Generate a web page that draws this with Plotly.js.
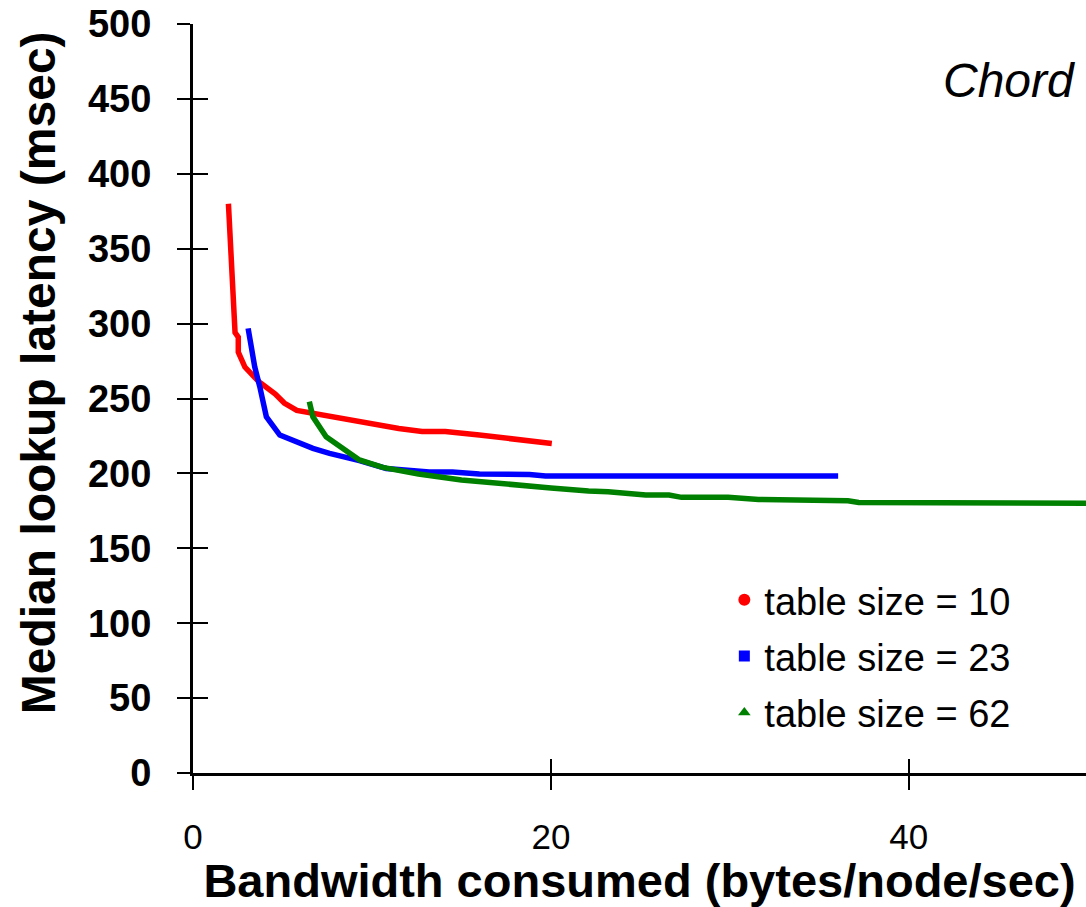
<!DOCTYPE html>
<html>
<head>
<meta charset="utf-8">
<script src="https://cdn.plot.ly/plotly-3.0.1.min.js"></script>
<style>html,body{margin:0;padding:0;background:#fff;}#chart{width:1086px;height:907px;}</style>
</head>
<body>
<div id="chart"></div>
<script>
// Data
const redX = [1.98, 2.17, 2.35, 2.53, 2.53, 2.9, 3.7, 4.6, 5.1, 5.8, 6.7, 7.2, 8.9, 10.2, 11.5, 12.8, 14.1, 16.0, 18.0, 20.05];
const redY = [380, 329, 294, 291, 281, 271, 261, 253, 247, 242, 240, 239, 235.6, 232, 230, 228, 228, 225.6, 223, 220];

const blueX = [3.08, 3.45, 3.73, 4.1, 4.85, 5.77, 6.7, 7.63, 8.56, 9.3, 10.8, 13.2, 14.5, 16.0, 18.8, 19.7, 36.05];
const blueY = [296.8, 271, 258, 237.8, 225.6, 221, 216.7, 213.4, 211, 208.5, 203.3, 201, 201, 199.6, 199.3, 198.3, 198.3];

const greenX = [6.5, 6.7, 7.44, 8.56, 9.3, 10.6, 12.6, 15.0, 17.8, 20.0, 22.1, 23.2, 25.3, 26.6, 27.3, 29.9, 31.6, 35.1, 36.6, 37.2, 39.4, 42.0, 49.9];
const greenY = [247.9, 237.8, 224.5, 214.5, 209, 204, 199.6, 195.6, 192.3, 190.3, 188.2, 187.8, 185.6, 185.6, 184, 184, 182.6, 182.6, 181.7, 180.6, 180.6, 180, 180];

const seriesNames = ["table size = 10", "table size = 23", "table size = 62"];
const xTicks = [0, 20, 40];
const yTicks = [0, 50, 100, 150, 200, 250, 300, 350, 400, 450, 500];
const xTitle = "Bandwidth consumed (bytes/node/sec)";
const yTitle = "Median lookup latency (msec)";
const panelLabel = "Chord";

const FONT = "Liberation Sans, Arial, Helvetica, sans-serif";
const colors = ["#ff0000", "#0000ff", "#008000"];
const symbols = ["circle", "square", "triangle-up"];
const msizes = [12, 11, 11];

const lineData = [[redX, redY], [blueX, blueY], [greenX, greenY]];
const traces = [];
lineData.forEach((d, i) => {
  traces.push({
    x: d[0], y: d[1], type: "scatter", mode: "lines",
    line: {color: colors[i], width: 5.5},
    showlegend: false, hoverinfo: "skip"
  });
});
seriesNames.forEach((n, i) => {
  traces.push({
    x: [null], y: [null], type: "scatter", mode: "markers",
    name: n, legendgroup: "g" + i,
    marker: {color: colors[i], symbol: symbols[i], size: msizes[i]}
  });
});
// invisible trace to host the inside-tick overlay axes
traces.push({x: [null], y: [null], xaxis: "x2", yaxis: "y2", showlegend: false, mode: "markers", hoverinfo: "skip"});

const xr = [0, 49.9], yr = [0, 500];
const layout = {
  width: 1086, height: 907,
  margin: {l: 193, r: 0, t: 24, b: 134},
  paper_bgcolor: "#fff", plot_bgcolor: "#fff",
  font: {family: FONT, color: "#000"},
  showlegend: true,
  xaxis: {
    range: xr, tickvals: xTicks, ticktext: xTicks.map(String),
    showgrid: false, zeroline: false,
    showline: true, linecolor: "#000", linewidth: 3,
    ticks: "outside", ticklen: 14, tickwidth: 1.5, tickcolor: "#000",
    ticklabelstandoff: 17,
    tickfont: {family: FONT, size: 35, color: "#000"},
    title: {text: "<b>" + xTitle + "</b>", font: {family: FONT, size: 47, color: "#000"}, standoff: 0}
  },
  yaxis: {
    range: yr, tickvals: yTicks, ticktext: yTicks.map(String),
    showgrid: false, zeroline: false,
    showline: true, linecolor: "#000", linewidth: 3,
    ticks: "outside", ticklen: 13, tickwidth: 2, tickcolor: "#000",
    ticklabelstandoff: 18,
    tickfont: {family: FONT, size: 38, color: "#000", weight: "bold"}
  },
  xaxis2: {
    overlaying: "x", range: xr, tickvals: xTicks, showticklabels: false,
    showgrid: false, zeroline: false, showline: false,
    ticks: "inside", ticklen: 14, tickwidth: 1.5, tickcolor: "#000", side: "bottom"
  },
  yaxis2: {
    overlaying: "y", range: yr, tickvals: yTicks, showticklabels: false,
    showgrid: false, zeroline: false, showline: false,
    ticks: "inside", ticklen: 15, tickwidth: 2, tickcolor: "#000", side: "left"
  },
  legend: {
    x: 0.595, y: 0.273, xanchor: "left", yanchor: "top",
    bgcolor: "rgba(0,0,0,0)", borderwidth: 0,
    font: {family: FONT, size: 38, color: "#000"},
    traceorder: "grouped", tracegroupgap: 4, itemwidth: 30
  },
  annotations: [
    {
      xref: "paper", yref: "paper", x: 0.99, y: 0.925,
      xanchor: "right", yanchor: "middle", showarrow: false,
      text: "<i>" + panelLabel + "</i>", font: {family: FONT, size: 48, color: "#000"}
    },
    {
      xref: "paper", yref: "paper", x: -0.1736, y: 0.535,
      xanchor: "center", yanchor: "middle", showarrow: false, textangle: -90,
      text: "<b>" + yTitle + "</b>", font: {family: FONT, size: 48, color: "#000"}
    }
  ]
};

Plotly.newPlot("chart", traces, layout, {displayModeBar: false, staticPlot: true});
</script>
</body>
</html>
